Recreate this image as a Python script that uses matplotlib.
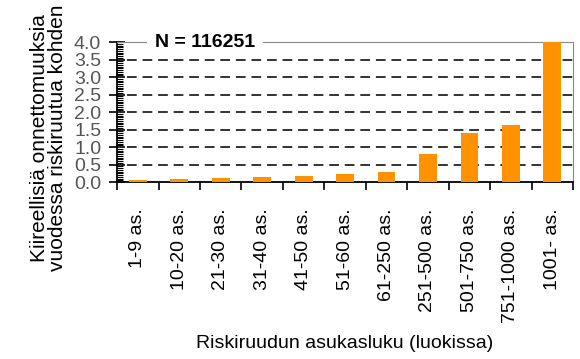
import matplotlib.pyplot as plt
from matplotlib.ticker import MultipleLocator
import numpy as np

plt.rcParams['font.family'] = ['Liberation Sans', 'DejaVu Sans']

# data
categories = ['1-9 as.', '10-20 as.', '21-30 as.', '31-40 as.', '41-50 as.',
              '51-60 as.', '61-250 as.', '251-500 as.', '501-750 as.',
              '751-1000 as.', '1001- as.']
values = [0.05, 0.08, 0.11, 0.15, 0.18, 0.22, 0.29, 0.80, 1.39, 1.63, 4.0]
n_label = 'N = 116251'

fig = plt.figure(figsize=(5.8, 3.59), dpi=100)
ax = fig.add_axes([0.202, 0.493, 0.786, 0.390])

x = np.arange(len(categories))
ax.bar(x, values, width=0.43, color='#ff9200', zorder=3)

ax.set_xlim(-0.5, len(categories) - 0.5)
ax.set_ylim(0, 4.0)
yticks = np.arange(0, 4.01, 0.5)
ax.set_yticks(yticks)
ax.set_yticklabels([f'{v:.1f}' for v in yticks])
ax.yaxis.set_minor_locator(MultipleLocator(0.05))

# dashed gridlines
for yv in np.arange(0.5, 3.6, 0.5):
    ax.plot([-0.27, len(categories) - 0.5], [yv, yv], color='#333333',
            linestyle=(0, (5, 3)), linewidth=1.4, zorder=1)

# x ticks at category boundaries, labels centred under bars
ax.set_xticks(np.arange(-0.5, len(categories)), minor=True)
ax.set_xticks(x)
ax.set_xticklabels(categories, rotation=90, fontsize=14)
ax.tick_params(axis='x', which='major', length=0, pad=19)
ax.tick_params(axis='x', which='minor', length=6, width=1.2, direction='out')
ax.tick_params(axis='y', which='major', length=11, width=1.2, direction='inout',
               labelsize=14, labelcolor='#555555', pad=6)
ax.tick_params(axis='y', which='minor', length=4, width=0.8, direction='in')

ax.spines['top'].set_color('#888888')
ax.spines['top'].set_linestyle((0, (1, 1)))
ax.spines['right'].set_color('#888888')
ax.spines['right'].set_linestyle((0, (1, 1)))
ax.spines['left'].set_linewidth(1.3)
ax.spines['bottom'].set_linewidth(1.3)

ax.text(0.41, 4.0, n_label, fontsize=14, fontweight='bold', va='center', ha='left',
        bbox=dict(facecolor='white', edgecolor='none', pad=6), zorder=5)

fig.text(0.084, 0.616, 'Kiireellisiä onnettomuuksia\nvuodessa riskiruutua kohden',
         fontsize=15, rotation=90, ha='center', va='center',
         multialignment='center', linespacing=0.95)
ax.set_xlabel('Riskiruudun asukasluku (luokissa)', fontsize=14, labelpad=9)

fig.savefig('out.png', dpi=100)
